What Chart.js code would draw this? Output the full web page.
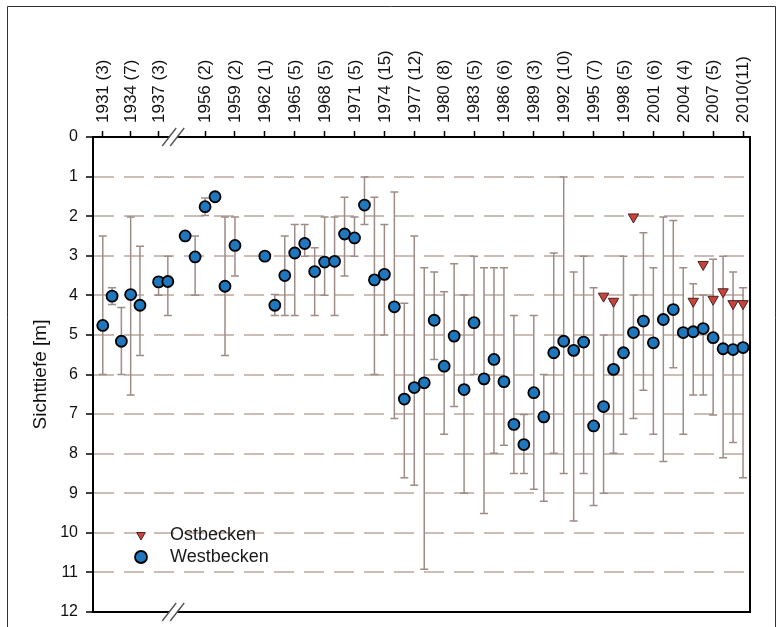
<!DOCTYPE html>
<html lang="de">
<head>
<meta charset="UTF-8">
<title>Sichttiefe</title>
<style>
  body { margin: 0; background: #fff; }
  #wrap { position: relative; width: 781px; height: 627px; }
</style>
</head>
<body>
<div id="wrap"><canvas id="chart" width="781" height="627"></canvas></div>
<script src="https://cdn.jsdelivr.net/npm/chart.js"></script>
<script>
// Westbecken: yearly mean and range (min / max) of Secchi depth in m
const westYears = [1931, 1932, 1933, 1934, 1935, 1937, 1938, 1954, 1955, 1956, 1957, 1958, 1959,
  1962, 1963, 1964, 1965, 1966, 1967, 1968, 1969, 1970, 1971, 1972, 1973, 1974, 1975, 1976, 1977,
  1978, 1979, 1980, 1981, 1982, 1983, 1984, 1985, 1986, 1987, 1988, 1989, 1990, 1991, 1992, 1993,
  1994, 1995, 1996, 1997, 1998, 1999, 2000, 2001, 2002, 2003, 2004, 2005, 2006, 2007, 2008, 2009, 2010];
const westMean = [4.76, 4.02, 5.16, 3.98, 4.25, 3.66, 3.65, 2.50, 3.03, 1.76, 1.51, 3.77, 2.74,
  3.01, 4.25, 3.50, 2.93, 2.69, 3.40, 3.16, 3.14, 2.45, 2.55, 1.72, 3.61, 3.47, 4.29, 6.62, 6.33,
  6.21, 4.63, 5.79, 5.03, 6.38, 4.69, 6.11, 5.62, 6.18, 7.26, 7.77, 6.46, 7.07, 5.45, 5.16, 5.39,
  5.18, 7.30, 6.81, 5.87, 5.45, 4.94, 4.65, 5.20, 4.61, 4.36, 4.94, 4.92, 4.84, 5.07, 5.35, 5.37, 5.32];
const westMin = [2.50, 3.81, 4.31, 2.02, 2.76, 3.55, 3.01, null, 2.50, 1.54, null, 2.02, 2.02,
  null, 3.98, 2.50, 2.21, 2.21, 2.80, 2.02, 2.02, 1.52, 2.02, 1.01, 1.52, 2.21, 1.39, 4.20, 2.50,
  3.30, 3.41, 3.91, 3.20, 3.99, 3.01, 3.30, 3.30, 3.30, 4.51, 7.01, 4.51, 6.00, 2.93, 1.01, 3.41,
  3.01, 3.81, 5.00, 4.15, 3.01, 3.99, 2.42, 3.30, 2.02, 2.11, 3.30, 3.71, 3.99, 3.09, 3.01, 3.41, 3.81];
const westMax = [6.00, 4.23, 6.00, 6.52, 5.52, 4.00, 4.51, null, 4.00, 1.98, null, 5.52, 3.51,
  null, 4.51, 4.51, 4.51, 3.01, 4.51, 4.00, 4.51, 3.51, 3.01, 2.21, 6.00, 5.00, 7.11, 8.61, 8.80,
  10.92, 5.62, 7.51, 6.81, 9.00, 6.00, 9.51, 7.99, 7.79, 8.50, 8.50, 8.90, 9.20, 7.99, 8.50, 9.70,
  8.50, 9.31, 9.00, 7.99, 7.51, 7.11, 6.40, 7.51, 8.20, 5.83, 7.51, 6.52, 6.52, 7.02, 8.10, 7.72, 8.61];

// Ostbecken: yearly mean
const ostYears = [1996, 1997, 1999, 2005, 2006, 2007, 2008, 2009, 2010];
const ostMean = [4.02, 4.15, 2.02, 4.15, 3.22, 4.10, 3.91, 4.21, 4.21];

// top axis: year (number of measurements)
const tickYears = [1931, 1934, 1937, 1956, 1959, 1962, 1965, 1968, 1971, 1974, 1977, 1980,
  1983, 1986, 1989, 1992, 1995, 1998, 2001, 2004, 2007, 2010];
const tickLabels = ['1931 (3)', '1934 (7)', '1937 (3)', '1956 (2)', '1959 (2)', '1962 (1)',
  '1965 (5)', '1968 (5)', '1971 (5)', '1974 (15)', '1977 (12)', '1980 (8)', '1983 (5)',
  '1986 (6)', '1989 (3)', '1992 (10)', '1995 (7)', '1998 (5)', '2001 (6)', '2004 (4)',
  '2007 (5)', '2010(11)'];

// broken time axis: the 1930s are squeezed in front of the break
const BREAK_AT = 1952.8;
function axisPos(year) {
  return year > 1950 ? year : 1951.33 + (year - 1937) * 0.933;
}

const FONT = 'Liberation Sans, Arial, sans-serif';
const X_MIN = 1944.75, X_MAX = 2010.7;

const errorBars = {
  id: 'errorBars',
  beforeDatasetsDraw(chart) {
    const { ctx, scales: { x, y } } = chart;
    ctx.save();
    ctx.strokeStyle = '#9d8c87';
    ctx.lineWidth = 1.5;
    westYears.forEach((yr, i) => {
      if (westMin[i] == null) return;
      const px = x.getPixelForValue(axisPos(yr));
      const top = y.getPixelForValue(westMin[i]);
      const bot = y.getPixelForValue(westMax[i]);
      ctx.beginPath();
      ctx.moveTo(px, top); ctx.lineTo(px, bot);
      ctx.moveTo(px - 4, top); ctx.lineTo(px + 4, top);
      ctx.moveTo(px - 4, bot); ctx.lineTo(px + 4, bot);
      ctx.stroke();
    });
    ctx.restore();
  }
};

const frame = {
  id: 'frame',
  beforeDraw(chart) {
    const { ctx, width, height } = chart;
    ctx.save();
    ctx.fillStyle = '#fff';
    ctx.fillRect(0, 0, width, height);
    ctx.strokeStyle = '#333';
    ctx.lineWidth = 1;
    ctx.beginPath();
    ctx.moveTo(7.5, height + 2); ctx.lineTo(7.5, 6.5); ctx.lineTo(775.5, 6.5); ctx.lineTo(775.5, height + 2);
    ctx.stroke();
    ctx.restore();
  }
};

const axisBreak = {
  id: 'axisBreak',
  afterDraw(chart) {
    const { ctx, chartArea, scales: { x } } = chart;
    const cx = x.getPixelForValue(BREAK_AT);
    ctx.save();
    [chartArea.top, chartArea.bottom].forEach(cy => {
      ctx.fillStyle = '#fff';
      ctx.fillRect(cx - 4, cy - 2, 8, 4);
      ctx.strokeStyle = '#555';
      ctx.lineWidth = 1.4;
      ctx.beginPath();
      ctx.moveTo(cx - 11, cy + 9); ctx.lineTo(cx + 3, cy - 9);
      ctx.moveTo(cx - 3, cy + 9); ctx.lineTo(cx + 11, cy - 9);
      ctx.stroke();
    });
    ctx.restore();
  }
};

const legendBox = {
  id: 'legendBox',
  afterDraw(chart) {
    const { ctx } = chart;
    const rows = [
      { ds: chart.data.datasets[1], y: 535, r: 5 },
      { ds: chart.data.datasets[0], y: 557, r: 6 }
    ];
    ctx.save();
    rows.forEach(row => {
      ctx.fillStyle = row.ds.backgroundColor;
      ctx.strokeStyle = row.ds.borderColor;
      ctx.lineWidth = row.ds.borderWidth;
      Chart.helpers.drawPoint(ctx, {
        pointStyle: row.ds.pointStyle,
        rotation: row.ds.rotation || 0,
        radius: row.r,
        borderWidth: row.ds.borderWidth
      }, 141, row.y);
      ctx.fillStyle = '#1a1a1a';
      ctx.font = '18px ' + FONT;
      ctx.textBaseline = 'middle';
      ctx.fillText(row.ds.label, 170, row.y);
    });
    ctx.restore();
  }
};

new Chart(document.getElementById('chart'), {
  type: 'scatter',
  data: {
    datasets: [
      {
        label: 'Westbecken',
        data: westYears.map((yr, i) => ({ x: axisPos(yr), y: westMean[i] })),
        pointStyle: 'circle',
        pointRadius: 5.5,
        backgroundColor: '#1f78bd',
        borderColor: '#000',
        borderWidth: 1.8
      },
      {
        label: 'Ostbecken',
        data: ostYears.map((yr, i) => ({ x: axisPos(yr), y: ostMean[i] })),
        pointStyle: 'triangle',
        rotation: 180,
        pointRadius: 6,
        backgroundColor: '#c8433b',
        borderColor: '#4a2220',
        borderWidth: 1
      }
    ]
  },
  options: {
    responsive: false,
    animation: false,
    devicePixelRatio: 1,
    layout: { padding: { left: 0, right: 31, top: 0, bottom: 0 } },
    plugins: { legend: { display: false }, tooltip: { enabled: false } },
    scales: {
      x: {
        type: 'linear', position: 'bottom', min: X_MIN, max: X_MAX,
        ticks: { display: false },
        grid: { display: false },
        border: { color: '#000', width: 2 },
        afterFit(s) { s.height = 15; }
      },
      xTop: {
        type: 'linear', position: 'top', min: X_MIN, max: X_MAX,
        afterBuildTicks(s) { s.ticks = tickYears.map(v => ({ value: axisPos(v) })); },
        ticks: {
          autoSkip: false, minRotation: 90, maxRotation: 90, padding: 8, labelOffset: 21,
          color: '#111', font: { family: FONT, size: 17 },
          callback: (v, i) => tickLabels[i]
        },
        grid: { drawOnChartArea: false, tickLength: 6, tickColor: '#000', tickWidth: 1.5 },
        border: { color: '#000', width: 2 },
        afterFit(s) { s.height = 137; s.paddingLeft = 0; s.paddingRight = 0; }
      },
      y: {
        type: 'linear', position: 'left', reverse: true, min: 0, max: 12,
        ticks: { stepSize: 1, padding: 8, color: '#111', font: { family: FONT, size: 16 } },
        grid: {
          color: c => (c.tick && (c.tick.value === 0 || c.tick.value === 12)) ? 'rgba(0,0,0,0)' : '#cbbdb6',
          lineWidth: 2, tickLength: 7, tickColor: '#000', tickWidth: 1.5
        },
        border: { color: '#000', width: 2, dash: [20, 10] },
        title: {
          display: true, text: 'Sichttiefe [m]', color: '#111',
          font: { family: FONT, size: 19 }, padding: { top: 29, bottom: 0 }
        },
        afterFit(s) { s.width = 93; s.paddingTop = 0; s.paddingBottom = 0; }
      },
      yRight: {
        type: 'linear', position: 'right', reverse: true, min: 0, max: 12,
        ticks: { display: false },
        grid: { drawOnChartArea: false, drawTicks: false },
        border: { color: '#000', width: 2 },
        afterFit(s) { s.width = 0; s.paddingTop = 0; s.paddingBottom = 0; }
      }
    }
  },
  plugins: [frame, errorBars, axisBreak, legendBox]
});
</script>
</body>
</html>
